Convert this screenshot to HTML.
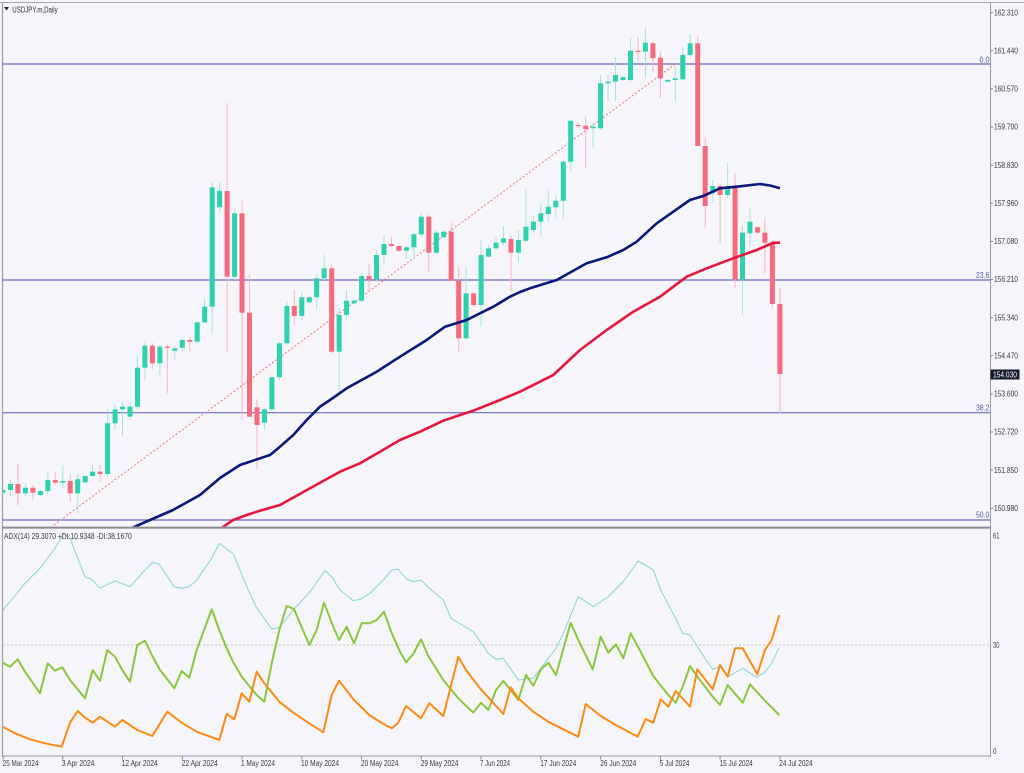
<!DOCTYPE html>
<html><head><meta charset="utf-8"><style>
html,body{margin:0;padding:0;background:#f5f5fa;}
svg{display:block;}
text{font-family:"Liberation Sans",Arial,sans-serif;}
</style></head><body>
<svg width="1024" height="773" viewBox="0 0 1024 773" xmlns="http://www.w3.org/2000/svg">
<defs>
<clipPath id="pp"><rect x="3" y="3" width="987" height="523.5"/></clipPath>
<clipPath id="ap"><rect x="3" y="529" width="987" height="226.5"/></clipPath>
</defs>
<rect x="0" y="0" width="1024" height="773" fill="#f5f5fa"/>
<!-- frame -->
<line x1="0" y1="2.5" x2="1024" y2="2.5" stroke="#a8a8a8" stroke-width="1"/>
<line x1="2.5" y1="2" x2="2.5" y2="757" stroke="#a0a0a0" stroke-width="1.2"/>
<line x1="990.5" y1="2" x2="990.5" y2="757" stroke="#9a9aa0" stroke-width="1"/>
<line x1="2" y1="527.6" x2="991" y2="527.6" stroke="#8c8c90" stroke-width="2"/>
<line x1="2" y1="756" x2="991" y2="756" stroke="#9a9aa0" stroke-width="1"/>

<g clip-path="url(#pp)">
<!-- fib lines -->
<g stroke="#6a6abb" stroke-width="1.2">
<line x1="3" y1="64" x2="990" y2="64"/>
<line x1="3" y1="280" x2="990" y2="280"/>
<line x1="3" y1="412.7" x2="990" y2="412.7"/>
<line x1="3" y1="520" x2="990" y2="520"/>
</g>
<!-- trend dotted -->
<line x1="44" y1="532.4" x2="677" y2="62.7" stroke="#f07878" stroke-width="1" stroke-dasharray="2,2"/>

<!-- wicks -->
<path stroke="#a6e5d9" stroke-width="1" fill="none" d="M3 483.3V503.3M10.5 480V496.7M25.4 483.3V496.7M40.4 490V496.7M47.8 472.7V495M62.8 465V488.3M77.7 474V513.3M85.2 475V483.3M92.6 465V476.7M107.6 408.3V476.7M115.1 405V430M122.5 401.7V436.7M130 403.3V420M137.5 355.7V410M144.9 340.7V380M159.9 345V377.3M174.8 346.7V359.3M182.3 338.3V351.7M197.2 321.7V345M204.7 298.3V323.3M212.2 181.7V333.3M219.6 181.7V212.7M234.6 207.3V280M264.5 407.3V429.3M271.9 375V410.7M279.4 341.7V380M286.9 301.7V345M301.8 291.7V320.7M309.3 296.7V303.3M316.7 275V309.3M324.2 255V280M339.2 308.3V393.3M346.6 290V320.7M354.1 299V304M361.6 273.3V302.7M376.5 250V281.7M384 235V265M406.4 246V259.3M413.9 233.3V260M421.3 212.7V236.7M436.3 230V254M443.7 230V238M466.1 266.7V340M481.1 240V326.7M488.6 246V257.3M496 236.7V250M503.5 226V245M518.4 230V262.7M525.9 189.3V241.7M533.4 215V233.3M540.8 202.7V237.3M548.3 190.7V221.7M555.8 195V217.3M563.3 160V218.3M570.7 119.3V171.7M593.1 123.3V148.3M600.6 75V130M608.1 75V100.7M615.5 57.3V101.7M623 76V81M630.5 37.3V81.7M645.4 27.3V78.3M667.8 79V82M675.3 66V101.7M682.8 46.7V80M690.2 34V56M712.7 180V201.7M727.6 162.7V198.3M742.5 226V315M750 207.3V246.7"/>
<path stroke="#f5b6bf" stroke-width="1" fill="none" d="M17.9 464V505M32.9 485V499.3M55.3 471.7V485M70.2 473.3V501.7M100.1 465V481.7M152.4 343.3V369M167.3 345V393.3M189.8 337.3V351.7M227.1 103V352.7M242 200.7V420M249.5 275V416.7M257 399.3V469.3M294.3 290V325M331.7 265V353.3M369 264V290.7M391.4 236.7V247.3M398.9 245V251.7M428.8 215V271.7M451.2 222.7V281.7M458.7 266.7V351.7M473.6 291.7V306.7M511 235V291.7M578.2 123V128M585.7 116.7V167.7M638 37.3V60M652.9 41.7V71.7M660.4 51.7V98.3M697.7 36V146M705.2 137.3V228.3M720.1 183.3V242.7M735.1 173.3V288.3M757.5 226V234M764.9 217.3V273.3M772.4 240V307.3M779.9 288.3V413.3"/>

<!-- bull bodies -->
<g fill="#2dd1ae">
<rect x="0.5" y="490" width="5" height="2.7"/>
<rect x="8" y="484" width="5" height="6"/>
<rect x="22.9" y="487.7" width="5" height="5.6"/>
<rect x="37.9" y="491" width="5" height="4"/>
<rect x="45.3" y="480" width="5" height="11"/>
<rect x="60.3" y="481" width="5" height="1.7"/>
<rect x="75.2" y="479.3" width="5" height="14"/>
<rect x="82.7" y="476" width="5" height="6.3"/>
<rect x="90.1" y="471.7" width="5" height="4.3"/>
<rect x="105.1" y="423.3" width="5" height="50.7"/>
<rect x="112.6" y="409.3" width="5" height="14"/>
<rect x="120" y="406.7" width="5" height="2.6"/>
<rect x="127.5" y="406.7" width="5" height="10"/>
<rect x="135" y="367.7" width="5" height="39"/>
<rect x="142.4" y="345.7" width="5" height="22"/>
<rect x="157.4" y="346.7" width="5" height="16.6"/>
<rect x="172.3" y="348.3" width="5" height="2.4"/>
<rect x="179.8" y="340" width="5" height="7.7"/>
<rect x="194.7" y="322.3" width="5" height="19.4"/>
<rect x="202.2" y="306.7" width="5" height="15.6"/>
<rect x="209.7" y="187.3" width="5" height="119.4"/>
<rect x="217.1" y="190.7" width="5" height="16.6"/>
<rect x="232.1" y="213.3" width="5" height="63.4"/>
<rect x="262" y="409.3" width="5" height="13.4"/>
<rect x="269.4" y="377.3" width="5" height="32"/>
<rect x="276.9" y="343.3" width="5" height="34"/>
<rect x="284.4" y="306" width="5" height="37.3"/>
<rect x="299.3" y="297.3" width="5" height="18.7"/>
<rect x="306.8" y="297.3" width="5" height="5"/>
<rect x="314.2" y="278.3" width="5" height="19"/>
<rect x="321.7" y="268.3" width="5" height="10"/>
<rect x="336.7" y="315" width="5" height="36.7"/>
<rect x="344.1" y="300.7" width="5" height="14.3"/>
<rect x="351.6" y="300.7" width="5" height="2.6"/>
<rect x="359.1" y="276" width="5" height="24.7"/>
<rect x="374" y="255" width="5" height="24.3"/>
<rect x="381.5" y="244" width="5" height="11"/>
<rect x="403.9" y="247.3" width="5" height="3.4"/>
<rect x="411.4" y="234.3" width="5" height="13"/>
<rect x="418.8" y="216.7" width="5" height="17.6"/>
<rect x="433.8" y="232.7" width="5" height="20"/>
<rect x="441.2" y="231.7" width="5" height="5.6"/>
<rect x="463.6" y="293.3" width="5" height="45"/>
<rect x="478.6" y="255" width="5" height="50"/>
<rect x="486.1" y="248.3" width="5" height="8.4"/>
<rect x="493.5" y="242.7" width="5" height="5.6"/>
<rect x="501" y="238.3" width="5" height="4.4"/>
<rect x="515.9" y="240" width="5" height="12.7"/>
<rect x="523.4" y="226.7" width="5" height="14"/>
<rect x="530.9" y="221.7" width="5" height="8.3"/>
<rect x="538.3" y="213.3" width="5" height="8.4"/>
<rect x="545.8" y="206.7" width="5" height="7.3"/>
<rect x="553.3" y="200.7" width="5" height="6.6"/>
<rect x="560.8" y="161.7" width="5" height="39"/>
<rect x="568.2" y="120.7" width="5" height="41"/>
<rect x="590.6" y="126.7" width="5" height="1.6"/>
<rect x="598.1" y="83.3" width="5" height="45"/>
<rect x="605.6" y="81.7" width="5" height="1.6"/>
<rect x="613" y="75" width="5" height="6.7"/>
<rect x="620.5" y="77.3" width="5" height="2.7"/>
<rect x="628" y="50.7" width="5" height="29.3"/>
<rect x="642.9" y="42.7" width="5" height="9"/>
<rect x="665.3" y="80" width="5" height="1.7"/>
<rect x="672.8" y="78.3" width="5" height="1.7"/>
<rect x="680.3" y="55" width="5" height="24.3"/>
<rect x="687.7" y="43.3" width="5" height="11.7"/>
<rect x="710.2" y="186" width="5" height="7.3"/>
<rect x="725.1" y="186" width="5" height="9"/>
<rect x="740" y="232.7" width="5" height="46.6"/>
<rect x="747.5" y="221.7" width="5" height="11.6"/>
</g>
<!-- bear bodies -->
<g fill="#f56a7c">
<rect x="15.4" y="484" width="5" height="9.3"/>
<rect x="30.4" y="487.7" width="5" height="5"/>
<rect x="52.8" y="480" width="5" height="2.7"/>
<rect x="67.7" y="481" width="5" height="12.3"/>
<rect x="97.6" y="471.7" width="5" height="2.3"/>
<rect x="149.9" y="345.7" width="5" height="17.6"/>
<rect x="164.8" y="346.7" width="5" height="1.2"/>
<rect x="187.3" y="340" width="5" height="1.7"/>
<rect x="224.6" y="191" width="5" height="85.7"/>
<rect x="239.5" y="213.3" width="5" height="99.4"/>
<rect x="247" y="312.7" width="5" height="104"/>
<rect x="254.5" y="407.3" width="5" height="17.7"/>
<rect x="291.8" y="306" width="5" height="10"/>
<rect x="329.2" y="268.3" width="5" height="83.4"/>
<rect x="366.5" y="276" width="5" height="3.3"/>
<rect x="388.9" y="244" width="5" height="2"/>
<rect x="396.4" y="246" width="5" height="4.7"/>
<rect x="426.3" y="216.7" width="5" height="36"/>
<rect x="448.7" y="231.7" width="5" height="49"/>
<rect x="456.2" y="280.7" width="5" height="57.6"/>
<rect x="471.1" y="293.3" width="5" height="11.7"/>
<rect x="508.5" y="239" width="5" height="13.7"/>
<rect x="575.7" y="125" width="5" height="1.2"/>
<rect x="583.2" y="125.7" width="5" height="3.3"/>
<rect x="635.5" y="50.7" width="5" height="1.2"/>
<rect x="650.4" y="43.3" width="5" height="15"/>
<rect x="657.9" y="57.7" width="5" height="20.6"/>
<rect x="695.2" y="43.3" width="5" height="102.7"/>
<rect x="702.7" y="146" width="5" height="60"/>
<rect x="717.6" y="186" width="5" height="9"/>
<rect x="732.6" y="186" width="5" height="93.3"/>
<rect x="755" y="227.3" width="5" height="5.4"/>
<rect x="762.4" y="232.7" width="5" height="10"/>
<rect x="769.9" y="242.7" width="5" height="61.3"/>
<rect x="777.4" y="304" width="5" height="70"/>
</g>

<!-- moving averages -->
<polyline fill="none" stroke="#0c1878" stroke-width="2.6" stroke-linejoin="round" points="128,530 133,527.5 150,520 173,510 200,495 220,478 240,465 260,458.3 270,455 280,446.7 293.3,435 306.7,420 320,406.7 330,400 346.7,388.3 376.7,371.7 400,356.7 426.7,340 445,326.7 466.7,320 493.3,306.7 510,296.7 520,292 530,288.3 556.7,280 586.7,263.3 606.7,257.3 623.3,250 636.7,241.7 656.7,223.3 673.3,211.7 690,200 703.3,196 720,188.3 736.7,186.7 760,184 770,185.5 780,188.3"/>
<polyline fill="none" stroke="#e5173c" stroke-width="2.6" stroke-linejoin="round" points="218,531 223.3,526.7 233.3,520 246.7,515 260,510.7 280,505 310,488.3 340,471.7 360,463.3 380,451.7 400,440 420,431.7 443.3,420.7 460,415 473.3,410.7 500,400 520,391.7 553.3,375 580,350 606.7,330 633.3,311.7 660,296.7 686.7,276.7 706.7,268.3 733.3,258.3 756.7,250 773.3,242.7 780,242.7"/>
</g>

<!-- fib labels -->
<g fill="#5a5aaa" font-size="8">
<text x="979.5" y="62.5" textLength="10" lengthAdjust="spacingAndGlyphs">0.0</text>
<text x="976" y="278" textLength="13.3" lengthAdjust="spacingAndGlyphs">23.6</text>
<text x="976" y="410.5" textLength="13.3" lengthAdjust="spacingAndGlyphs">38.2</text>
<text x="976" y="517.7" textLength="13.3" lengthAdjust="spacingAndGlyphs">50.0</text>
</g>

<!-- header -->
<polygon points="4,7 9,7 6.5,10.5" fill="#222"/>
<text x="12.3" y="12.3" font-size="8" fill="#333" textLength="45.4" lengthAdjust="spacingAndGlyphs">USDJPY.m,Daily</text>

<!-- price axis -->
<g stroke="#888" stroke-width="1">
<path d="M990 12.7H993M990 50.8H993M990 88.9H993M990 127H993M990 165.2H993M990 203.3H993M990 241.4H993M990 279.5H993M990 317.6H993M990 355.7H993M990 393.9H993M990 432H993M990 470.1H993M990 508.2H993"/>
</g>
<g fill="#3c3c3c" font-size="8">
<text x="994" y="15.4" textLength="24" lengthAdjust="spacingAndGlyphs">162.310</text>
<text x="994" y="53.5" textLength="24" lengthAdjust="spacingAndGlyphs">161.440</text>
<text x="994" y="91.6" textLength="24" lengthAdjust="spacingAndGlyphs">160.570</text>
<text x="994" y="129.7" textLength="24" lengthAdjust="spacingAndGlyphs">159.700</text>
<text x="994" y="167.9" textLength="24" lengthAdjust="spacingAndGlyphs">158.830</text>
<text x="994" y="206" textLength="24" lengthAdjust="spacingAndGlyphs">157.960</text>
<text x="994" y="244.1" textLength="24" lengthAdjust="spacingAndGlyphs">157.080</text>
<text x="994" y="282.2" textLength="24" lengthAdjust="spacingAndGlyphs">156.210</text>
<text x="994" y="320.3" textLength="24" lengthAdjust="spacingAndGlyphs">155.340</text>
<text x="994" y="358.4" textLength="24" lengthAdjust="spacingAndGlyphs">154.470</text>
<text x="994" y="396.6" textLength="24" lengthAdjust="spacingAndGlyphs">153.600</text>
<text x="994" y="434.7" textLength="24" lengthAdjust="spacingAndGlyphs">152.720</text>
<text x="994" y="472.8" textLength="24" lengthAdjust="spacingAndGlyphs">151.850</text>
<text x="994" y="510.9" textLength="24" lengthAdjust="spacingAndGlyphs">150.980</text>
</g>
<rect x="990.5" y="369.5" width="29" height="10" fill="#161a30"/>
<text x="993" y="377.7" font-size="8" fill="#ffffff" textLength="24" lengthAdjust="spacingAndGlyphs">154.030</text>

<!-- ADX pane -->
<line x1="3" y1="645" x2="990" y2="645" stroke="#c4c4c8" stroke-width="1" stroke-dasharray="2,2"/>
<g clip-path="url(#ap)" fill="none" stroke-linejoin="round">
<polyline stroke="#8fd6da" stroke-width="1.1" points="3,610 10,601.7 25,583.3 40,568.3 55,548.3 63.3,534 70,538.3 85,576.7 91.7,579.3 100,588.3 115,580.7 130,586.7 145,570 152.7,562.3 159.3,564.3 174,586.7 181.7,588.3 189.3,586.7 196.7,580 211.7,558.3 219.3,543.3 233.3,554 248.3,590 256,606.7 271.7,629 279.3,627.7 293.3,610 310,591.7 325,570.7 331.7,576.7 340,590 353.3,600.7 360,599.3 370,593.3 383.3,580 391.7,570 398.3,569.3 406.7,579.3 413.3,581.7 421,580 428.3,587.3 443.3,600 451,618.3 473.3,631.7 488.3,653.3 496,659.3 503.3,658.3 518.3,680 533.3,678.3 548.3,658.3 556,648.3 563.3,633.3 578.3,596.7 593.3,606.7 608.3,596.7 623.3,581.7 638.3,561 653.3,570 660.7,590 675,617.3 682.7,633.3 690,635 705,658.3 712.7,669.3 720,666.7 728.3,676.7 742.7,668.3 756.7,677.3 764.3,672.7 771.7,663.3 779.3,647.3"/>
<polyline stroke="#8cc63c" stroke-width="2" points="3,663 10,666.7 17.7,659.3 25,671.7 40,693.3 47.7,663.3 55,670.7 62.3,667.3 70,680 85,698.3 92.7,670 100,681 107.3,650 115,656.7 122.3,670 130,681.7 137.3,645 145,640.7 152.3,656 160,670 174.3,688.3 181.7,671 189.3,677.7 196.7,650 211.7,609.3 219.3,630 226.7,648.3 233.3,662.3 241.7,676.7 256.7,695 264.3,701.7 271.7,663.3 279.3,630 286.7,606 294,609 301.7,627.3 309.3,645 316.7,630 324,602.7 331.7,622.7 339,640 346.7,626.7 354,643.3 361.7,623.3 369.3,623.3 376.7,620 384,611.7 391.7,633.3 400,651.7 406,662.3 413.3,654 421,639.3 428.3,656 443.3,680 458.3,698.3 473.3,712.7 481,702.7 488.3,710 496,690 503.3,681 510.7,690 518.3,700 526,675 533.3,685.7 541,669.3 548.3,662.7 556,675 570.7,622.7 578.3,640 592.7,669.3 600.7,636.7 608.3,652.7 616,644.3 623.3,658.3 630.7,633.3 638.3,647.3 653.3,676 668.3,695 675.7,702.7 683.3,685 690,666 697.3,676.7 712.7,696.7 720,705 727.7,685 742.7,702.7 750,684.3 765,700.7 779.3,715"/>
<polyline stroke="#ff8a14" stroke-width="2" points="3,727 15,733.3 30,739.3 45,743.3 61.7,746.7 70,722.7 77.7,711 85,717.7 92.7,722.7 100,716.7 115,726.7 122.3,720 137.3,730 152.3,736 167.3,711.7 181.7,722.7 196.7,731.7 219.3,740 226.7,714 234.3,719.3 241.7,693.3 249.3,701.7 256.7,671.7 264.3,683.3 279.3,701.7 293.3,712.7 308.3,722.7 323.3,732.3 331.7,695 339,680.7 354,700 369.3,715 384,724.3 391.7,728.3 398.3,722.7 406,706 421,718.3 429.3,703.3 443.3,716 458.3,656.7 466,670 480,688.3 503.3,714 510.7,687.3 518.3,698.3 533.3,711.7 548.3,721.7 563.3,729.3 578.3,736.7 585.7,704 600.7,716 615.7,725 637.7,736.7 645.7,719 653.3,722.7 660.7,699.3 668.3,706.7 675.7,691 690,706.7 697.3,669.3 712.7,689.3 720,665 727.7,676.7 735,648.3 742.7,648.3 757.3,674.3 765,650 771.7,640 779.3,615"/>
</g>
<text x="4" y="539" font-size="8" fill="#3c3c3c" textLength="127.7" lengthAdjust="spacingAndGlyphs">ADX(14) 29.3070 +DI:10.9348 -DI:38.1670</text>
<g fill="#3c3c3c" font-size="8">
<text x="993" y="538.5" textLength="6.5" lengthAdjust="spacingAndGlyphs">61</text>
<text x="993" y="648" textLength="6.5" lengthAdjust="spacingAndGlyphs">30</text>
<text x="993" y="754" textLength="3.5" lengthAdjust="spacingAndGlyphs">0</text>
</g>

<!-- date axis -->
<path stroke="#888" stroke-width="1" d="M3 756V759.5M62.8 756V759.5M122.5 756V759.5M182.3 756V759.5M242 756V759.5M301.8 756V759.5M361.6 756V759.5M421.3 756V759.5M481.1 756V759.5M540.8 756V759.5M600.6 756V759.5M660.4 756V759.5M720.1 756V759.5M779.9 756V759.5"/>
<g fill="#3c3c3c" font-size="8">
<text x="2.7" y="766" textLength="35.7" lengthAdjust="spacingAndGlyphs">25 Mar 2024</text>
<text x="61.7" y="766" textLength="32.7" lengthAdjust="spacingAndGlyphs">3 Apr 2024</text>
<text x="121.7" y="766" textLength="36" lengthAdjust="spacingAndGlyphs">12 Apr 2024</text>
<text x="181.7" y="766" textLength="36" lengthAdjust="spacingAndGlyphs">22 Apr 2024</text>
<text x="241" y="766" textLength="34" lengthAdjust="spacingAndGlyphs">1 May 2024</text>
<text x="301" y="766" textLength="38" lengthAdjust="spacingAndGlyphs">10 May 2024</text>
<text x="361" y="766" textLength="37.3" lengthAdjust="spacingAndGlyphs">20 May 2024</text>
<text x="420.7" y="766" textLength="37.7" lengthAdjust="spacingAndGlyphs">29 May 2024</text>
<text x="480" y="766" textLength="30" lengthAdjust="spacingAndGlyphs">7 Jun 2024</text>
<text x="540.3" y="766" textLength="36" lengthAdjust="spacingAndGlyphs">17 Jun 2024</text>
<text x="600.3" y="766" textLength="36" lengthAdjust="spacingAndGlyphs">26 Jun 2024</text>
<text x="659.7" y="766" textLength="29.7" lengthAdjust="spacingAndGlyphs">5 Jul 2024</text>
<text x="719.7" y="766" textLength="33" lengthAdjust="spacingAndGlyphs">15 Jul 2024</text>
<text x="779.3" y="766" textLength="33.3" lengthAdjust="spacingAndGlyphs">24 Jul 2024</text>
</g>
</svg>
</body></html>
